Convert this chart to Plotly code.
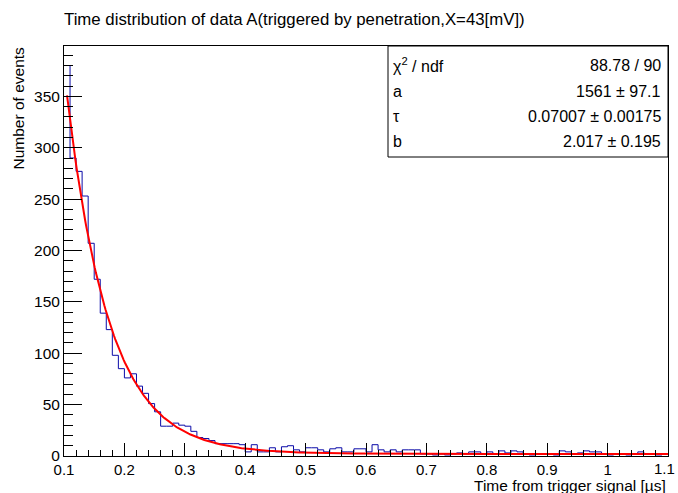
import numpy as np
import plotly.graph_objects as go

# ---- data ----
bin_start = 0.1
bin_width = 0.01
counts = [380, 290, 277, 253, 207, 172, 139, 123, 98, 85,
          76, 80, 68, 61, 51, 43, 29, 29, 32, 30,
          29, 24, 18, 17, 15, 12, 12, 12, 12, 11,
          4, 11, 4, 4, 8, 4, 9, 10, 6, 4,
          8, 8, 6, 4, 7, 8, 4, 4, 7, 7,
          4, 11, 6, 4, 6, 4, 6, 6, 6, 2,
          2, 1, 2, 1, 2, 3, 2, 4, 4, 2,
          4, 2, 5, 3, 5, 4, 2, 1, 2, 2,
          2, 1, 5, 4, 2, 3, 5, 4, 4, 2,
          1, 2, 2, 1, 2, 4, 2, 2, 1, 2]

# fit results shown in the stats box
fit_a = 1561.0
fit_tau = 0.07007
fit_b = 2.017
fit_range = (0.105, 1.1)

x_ticks = [0.1, 0.2, 0.3, 0.4, 0.5, 0.6, 0.7, 0.8, 0.9, 1.0, 1.1]
x_tick_labels = ["0.1", "0.2", "0.3", "0.4", "0.5", "0.6", "0.7", "0.8", "0.9", "1", "1.1"]
y_ticks = [0, 50, 100, 150, 200, 250, 300, 350]

stat_labels = ["χ<sup>2</sup> / ndf", "a", "τ", "b"]
stat_values = ["88.78 / 90", "1561 ± 97.1", "0.07007 ± 0.00175", "2.017 ± 0.195"]

title_text = "Time distribution of data A(triggered by penetration,X=43[mV])"
x_title = "Time from trigger signal [µs]"
y_title = "Number of events"

# ---- figure ----
n = len(counts)
edges = bin_start + bin_width * np.arange(n + 1)
hx = list(edges)
hy = list(counts) + [counts[-1]]

t = np.linspace(fit_range[0], fit_range[1], 500)
f = fit_a * np.exp(-t / fit_tau) + fit_b

FONT = "Liberation Sans, Arial, Helvetica, sans-serif"

fig = go.Figure()
fig.add_trace(go.Scatter(x=hx, y=hy, mode="lines", line=dict(color="#0a0aa8", width=1, shape="hv"),
                         hoverinfo="skip", showlegend=False))
fig.add_trace(go.Scatter(x=t, y=f, mode="lines", line=dict(color="#ff0000", width=2),
                         hoverinfo="skip", showlegend=False))

L, R, T, B = 64, 10, 46, 37
W, H = 678, 493
pw, ph = W - L - R, H - T - B

def px(xp):
    return (xp - L) / pw

def py(yp):
    return (H - B - yp) / ph

minor_x = [round(0.1 + 0.02 * i, 4) for i in range(51)]

# the last label sits at the page edge; it is drawn as an annotation so it is not culled
axis_ticktext = x_tick_labels[:-1] + [""]

fig.update_layout(
    width=W, height=H,
    margin=dict(l=L, r=R, t=T, b=B, pad=0),
    paper_bgcolor="white", plot_bgcolor="white",
    font=dict(family=FONT, size=15.5, color="black"),
    showlegend=False,
    xaxis=dict(range=[0.1, 1.1], tickmode="array", tickvals=x_ticks, ticktext=axis_ticktext,
               ticks="inside", ticklen=13,
               tickcolor="black", tickwidth=1, showgrid=False, zeroline=False,
               showline=True, linecolor="black", linewidth=1, mirror=True,
               minor=dict(ticks="inside", ticklen=6, tickmode="array", tickvals=minor_x,
                          tickcolor="black", showgrid=False),
               tickfont=dict(size=15, family=FONT)),
    yaxis=dict(range=[0, 399], tickmode="array", tickvals=y_ticks,
               ticks="inside", ticklen=18,
               tickcolor="black", tickwidth=1, showgrid=False, zeroline=False,
               showline=True, linecolor="black", linewidth=1, mirror=True,
               minor=dict(ticks="inside", ticklen=9, dtick=10, tickcolor="black", showgrid=False),
               tickfont=dict(size=15.5, family=FONT)),
)

ann = []
ann.append(dict(text=x_tick_labels[-1], x=px(677), y=0, xref="paper", yref="paper",
                xanchor="right", yanchor="top", yshift=-2, showarrow=False, font=dict(size=15)))
ann.append(dict(text=title_text, x=px(62), y=py(20), xref="paper", yref="paper",
                xanchor="left", yanchor="middle", showarrow=False, font=dict(size=16.8)))
ann.append(dict(text=x_title, x=px(668), y=py(485), xref="paper", yref="paper",
                xanchor="right", yanchor="middle", showarrow=False, font=dict(size=15.5)))
ann.append(dict(text=y_title, x=px(18), y=py(45), xref="paper", yref="paper",
                xanchor="center", yanchor="top", textangle=-90, showarrow=False, font=dict(size=15.5)))

row_y = [65, 91.7, 116.7, 141.7]
for lab, val, yy in zip(stat_labels, stat_values, row_y):
    ann.append(dict(text=lab, x=px(391), y=py(yy), xref="paper", yref="paper",
                    xanchor="left", yanchor="middle", showarrow=False, font=dict(size=16)))
    ann.append(dict(text=val, x=px(663), y=py(yy), xref="paper", yref="paper",
                    xanchor="right", yanchor="middle", showarrow=False, font=dict(size=16)))
fig.update_layout(annotations=ann)

fig.add_shape(type="rect", xref="paper", yref="paper",
              x0=px(388), x1=px(668), y0=py(157), y1=py(46),
              line=dict(color="black", width=1), fillcolor="white", layer="above")

fig.write_html("out.html")
